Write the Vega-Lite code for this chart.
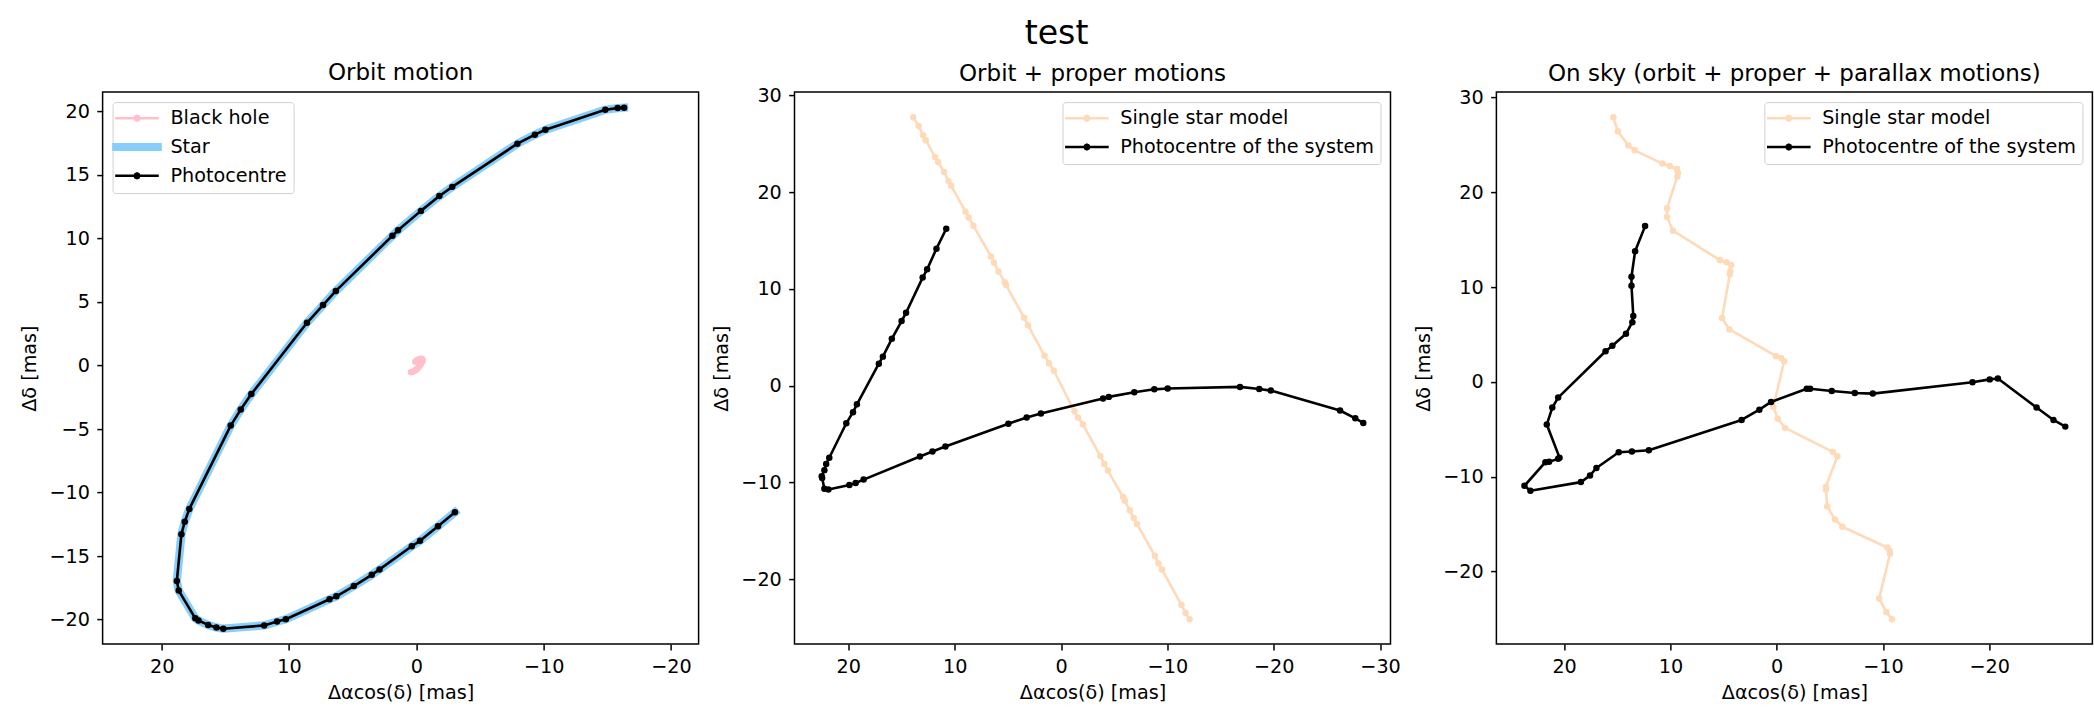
{
  "$schema": "https://vega.github.io/schema/vega-lite/v6.json",
  "background": "white",
  "padding": {"left": 19.6, "top": 17.1, "right": 0, "bottom": 0},
  "title": {"text": "test", "fontSize": 33.2, "font": "DejaVu Sans", "fontWeight": "normal", "color": "black", "anchor": "middle", "baseline": "top", "offset": 10},
  "spacing": 11.9,
  "resolve": {"scale": {"color": "independent"}},
  "config": {
    "font": "DejaVu Sans",
    "view": {"stroke": "black", "strokeWidth": 1.5},
    "axis": {"grid": false, "domain": false, "tickColor": "black", "tickWidth": 1.5, "tickSize": 5.8, "labelFontSize": 19.2, "labelColor": "black", "labelFont": "DejaVu Sans", "labelPadding": 7.4, "titleFontSize": 19.2, "titleFontWeight": "normal", "titleColor": "black", "titleFont": "DejaVu Sans", "labelOverlap": false},
    "axisX": {"titlePadding": 7},
    "axisY": {"titlePadding": 9.2},
    "legend": {"labelFontSize": 19.2, "labelColor": "black", "labelFont": "DejaVu Sans", "labelLimit": 500, "padding": 6.5, "rowPadding": 8.8, "fillColor": "white", "strokeColor": "#d0d0d0", "cornerRadius": 3, "symbolSize": 1, "symbolStrokeWidth": 2.6, "symbolOffset": 8.3, "labelOffset": 23.8, "offset": 10}
  },
  "datasets": {
    "p1": [
      {"s":"Black hole","i":0,"x":0.42,"y":-0.53},{"s":"Black hole","i":1,"x":0.26,"y":-0.48},{"s":"Black hole","i":2,"x":0.07,"y":-0.37},{"s":"Black hole","i":3,"x":-0.04,"y":-0.28},{"s":"Black hole","i":4,"x":-0.19,"y":-0.12},{"s":"Black hole","i":5,"x":-0.34,"y":0.06},{"s":"Black hole","i":6,"x":-0.46,"y":0.29},{"s":"Black hole","i":7,"x":-0.49,"y":0.44},{"s":"Black hole","i":8,"x":-0.45,"y":0.52},{"s":"Black hole","i":9,"x":-0.39,"y":0.54},{"s":"Black hole","i":10,"x":-0.28,"y":0.52},{"s":"Black hole","i":11,"x":-0.13,"y":0.45},{"s":"Black hole","i":12,"x":-0.01,"y":0.37},{"s":"Black hole","i":13,"x":0.08,"y":0.30},
      {"s":"Star","i":0,"x":-16.32,"y":20.29},{"s":"Star","i":1,"x":-15.81,"y":20.26},{"s":"Star","i":2,"x":-14.84,"y":20.13},{"s":"Star","i":3,"x":-10.14,"y":18.56},{"s":"Star","i":4,"x":-9.31,"y":18.17},{"s":"Star","i":5,"x":-7.94,"y":17.46},{"s":"Star","i":6,"x":-2.82,"y":14.06},{"s":"Star","i":7,"x":-1.81,"y":13.34},{"s":"Star","i":8,"x":-0.36,"y":12.17},{"s":"Star","i":9,"x":1.44,"y":10.64},{"s":"Star","i":10,"x":1.88,"y":10.21},{"s":"Star","i":11,"x":6.32,"y":5.87},{"s":"Star","i":12,"x":7.33,"y":4.76},{"s":"Star","i":13,"x":8.59,"y":3.36},{"s":"Star","i":14,"x":12.96,"y":-2.25},{"s":"Star","i":15,"x":13.79,"y":-3.46},{"s":"Star","i":16,"x":14.58,"y":-4.73},{"s":"Star","i":17,"x":17.83,"y":-11.29},{"s":"Star","i":18,"x":18.19,"y":-12.30},{"s":"Star","i":19,"x":18.45,"y":-13.28},{"s":"Star","i":20,"x":18.81,"y":-16.97},{"s":"Star","i":21,"x":18.66,"y":-17.72},{"s":"Star","i":22,"x":17.36,"y":-19.90},{"s":"Star","i":23,"x":17.11,"y":-20.07},{"s":"Star","i":24,"x":16.35,"y":-20.42},{"s":"Star","i":25,"x":15.70,"y":-20.62},{"s":"Star","i":26,"x":15.16,"y":-20.72},{"s":"Star","i":27,"x":11.95,"y":-20.46},{"s":"Star","i":28,"x":10.94,"y":-20.16},{"s":"Star","i":29,"x":10.25,"y":-19.97},{"s":"Star","i":30,"x":6.82,"y":-18.40},{"s":"Star","i":31,"x":6.28,"y":-18.17},{"s":"Star","i":32,"x":4.91,"y":-17.36},{"s":"Star","i":33,"x":3.50,"y":-16.48},{"s":"Star","i":34,"x":2.89,"y":-16.05},{"s":"Star","i":35,"x":0.36,"y":-14.23},{"s":"Star","i":36,"x":-0.29,"y":-13.80},{"s":"Star","i":37,"x":-1.70,"y":-12.66},{"s":"Star","i":38,"x":-3.03,"y":-11.55},
      {"s":"Photocentre","i":0,"x":-16.32,"y":20.29},{"s":"Photocentre","i":1,"x":-15.81,"y":20.26},{"s":"Photocentre","i":2,"x":-14.84,"y":20.13},{"s":"Photocentre","i":3,"x":-10.14,"y":18.56},{"s":"Photocentre","i":4,"x":-9.31,"y":18.17},{"s":"Photocentre","i":5,"x":-7.94,"y":17.46},{"s":"Photocentre","i":6,"x":-2.82,"y":14.06},{"s":"Photocentre","i":7,"x":-1.81,"y":13.34},{"s":"Photocentre","i":8,"x":-0.36,"y":12.17},{"s":"Photocentre","i":9,"x":1.44,"y":10.64},{"s":"Photocentre","i":10,"x":1.88,"y":10.21},{"s":"Photocentre","i":11,"x":6.32,"y":5.87},{"s":"Photocentre","i":12,"x":7.33,"y":4.76},{"s":"Photocentre","i":13,"x":8.59,"y":3.36},{"s":"Photocentre","i":14,"x":12.96,"y":-2.25},{"s":"Photocentre","i":15,"x":13.79,"y":-3.46},{"s":"Photocentre","i":16,"x":14.58,"y":-4.73},{"s":"Photocentre","i":17,"x":17.83,"y":-11.29},{"s":"Photocentre","i":18,"x":18.19,"y":-12.30},{"s":"Photocentre","i":19,"x":18.45,"y":-13.28},{"s":"Photocentre","i":20,"x":18.81,"y":-16.97},{"s":"Photocentre","i":21,"x":18.66,"y":-17.72},{"s":"Photocentre","i":22,"x":17.36,"y":-19.90},{"s":"Photocentre","i":23,"x":17.11,"y":-20.07},{"s":"Photocentre","i":24,"x":16.35,"y":-20.42},{"s":"Photocentre","i":25,"x":15.70,"y":-20.62},{"s":"Photocentre","i":26,"x":15.16,"y":-20.72},{"s":"Photocentre","i":27,"x":11.95,"y":-20.46},{"s":"Photocentre","i":28,"x":10.94,"y":-20.16},{"s":"Photocentre","i":29,"x":10.25,"y":-19.97},{"s":"Photocentre","i":30,"x":6.82,"y":-18.40},{"s":"Photocentre","i":31,"x":6.28,"y":-18.17},{"s":"Photocentre","i":32,"x":4.91,"y":-17.36},{"s":"Photocentre","i":33,"x":3.50,"y":-16.48},{"s":"Photocentre","i":34,"x":2.89,"y":-16.05},{"s":"Photocentre","i":35,"x":0.36,"y":-14.23},{"s":"Photocentre","i":36,"x":-0.29,"y":-13.80},{"s":"Photocentre","i":37,"x":-1.70,"y":-12.66},{"s":"Photocentre","i":38,"x":-3.03,"y":-11.55}
    ],
    "p2": [
      {"s":"Single star model","i":0,"x":13.90,"y":27.73},{"s":"Single star model","i":1,"x":13.39,"y":26.83},{"s":"Single star model","i":2,"x":12.97,"y":25.89},{"s":"Single star model","i":3,"x":12.72,"y":25.37},{"s":"Single star model","i":4,"x":11.84,"y":23.62},{"s":"Single star model","i":5,"x":11.55,"y":23.11},{"s":"Single star model","i":6,"x":11.00,"y":22.08},{"s":"Single star model","i":7,"x":10.58,"y":21.14},{"s":"Single star model","i":8,"x":10.33,"y":20.67},{"s":"Single star model","i":9,"x":8.98,"y":17.97},{"s":"Single star model","i":10,"x":8.69,"y":17.37},{"s":"Single star model","i":11,"x":8.23,"y":16.52},{"s":"Single star model","i":12,"x":6.59,"y":13.35},{"s":"Single star model","i":13,"x":6.30,"y":12.71},{"s":"Single star model","i":14,"x":5.88,"y":11.81},{"s":"Single star model","i":15,"x":5.29,"y":10.70},{"s":"Single star model","i":16,"x":5.16,"y":10.40},{"s":"Single star model","i":17,"x":3.48,"y":7.02},{"s":"Single star model","i":18,"x":3.11,"y":6.25},{"s":"Single star model","i":19,"x":1.55,"y":3.08},{"s":"Single star model","i":20,"x":1.13,"y":2.31},{"s":"Single star model","i":21,"x":0.67,"y":1.54},{"s":"Single star model","i":22,"x":-1.26,"y":-2.65},{"s":"Single star model","i":23,"x":-1.60,"y":-3.29},{"s":"Single star model","i":24,"x":-2.06,"y":-4.02},{"s":"Single star model","i":25,"x":-3.69,"y":-7.27},{"s":"Single star model","i":26,"x":-4.07,"y":-8.09},{"s":"Single star model","i":27,"x":-4.41,"y":-8.77},{"s":"Single star model","i":28,"x":-5.84,"y":-11.51},{"s":"Single star model","i":29,"x":-6.00,"y":-11.90},{"s":"Single star model","i":30,"x":-6.47,"y":-12.88},{"s":"Single star model","i":31,"x":-6.84,"y":-13.69},{"s":"Single star model","i":32,"x":-7.14,"y":-14.29},{"s":"Single star model","i":33,"x":-8.82,"y":-17.59},{"s":"Single star model","i":34,"x":-9.15,"y":-18.36},{"s":"Single star model","i":35,"x":-9.49,"y":-19.00},{"s":"Single star model","i":36,"x":-11.33,"y":-22.68},{"s":"Single star model","i":37,"x":-11.71,"y":-23.49},{"s":"Single star model","i":38,"x":-12.09,"y":-24.13},
      {"s":"Photocentre of the system","i":0,"x":10.79,"y":16.22},{"s":"Photocentre of the system","i":1,"x":11.71,"y":14.16},{"s":"Photocentre of the system","i":2,"x":12.59,"y":12.02},{"s":"Photocentre of the system","i":3,"x":13.01,"y":11.17},{"s":"Photocentre of the system","i":4,"x":14.57,"y":7.53},{"s":"Photocentre of the system","i":5,"x":14.99,"y":6.68},{"s":"Photocentre of the system","i":6,"x":15.91,"y":4.84},{"s":"Photocentre of the system","i":7,"x":16.75,"y":3.00},{"s":"Photocentre of the system","i":8,"x":17.13,"y":2.27},{"s":"Photocentre of the system","i":9,"x":19.19,"y":-1.93},{"s":"Photocentre of the system","i":10,"x":19.56,"y":-2.74},{"s":"Photocentre of the system","i":11,"x":20.19,"y":-3.89},{"s":"Photocentre of the system","i":12,"x":21.79,"y":-7.45},{"s":"Photocentre of the system","i":13,"x":22.08,"y":-8.09},{"s":"Photocentre of the system","i":14,"x":22.25,"y":-8.73},{"s":"Photocentre of the system","i":15,"x":22.50,"y":-9.37},{"s":"Photocentre of the system","i":16,"x":22.46,"y":-9.54},{"s":"Photocentre of the system","i":17,"x":22.25,"y":-10.65},{"s":"Photocentre of the system","i":18,"x":21.87,"y":-10.74},{"s":"Photocentre of the system","i":19,"x":19.90,"y":-10.27},{"s":"Photocentre of the system","i":20,"x":19.31,"y":-10.06},{"s":"Photocentre of the system","i":21,"x":18.56,"y":-9.71},{"s":"Photocentre of the system","i":22,"x":13.27,"y":-7.32},{"s":"Photocentre of the system","i":23,"x":12.09,"y":-6.80},{"s":"Photocentre of the system","i":24,"x":10.87,"y":-6.29},{"s":"Photocentre of the system","i":25,"x":4.95,"y":-3.94},{"s":"Photocentre of the system","i":26,"x":3.23,"y":-3.29},{"s":"Photocentre of the system","i":27,"x":1.89,"y":-2.87},{"s":"Photocentre of the system","i":28,"x":-3.95,"y":-1.33},{"s":"Photocentre of the system","i":29,"x":-4.49,"y":-1.16},{"s":"Photocentre of the system","i":30,"x":-6.89,"y":-0.68},{"s":"Photocentre of the system","i":31,"x":-8.77,"y":-0.38},{"s":"Photocentre of the system","i":32,"x":-10.03,"y":-0.30},{"s":"Photocentre of the system","i":33,"x":-16.83,"y":-0.13},{"s":"Photocentre of the system","i":34,"x":-18.64,"y":-0.34},{"s":"Photocentre of the system","i":35,"x":-19.73,"y":-0.51},{"s":"Photocentre of the system","i":36,"x":-26.24,"y":-2.57},{"s":"Photocentre of the system","i":37,"x":-27.67,"y":-3.38},{"s":"Photocentre of the system","i":38,"x":-28.42,"y":-3.85}
    ],
    "p3": [
      {"s":"Single star model","i":0,"x":15.37,"y":27.90},{"s":"Single star model","i":1,"x":14.95,"y":26.42},{"s":"Single star model","i":2,"x":13.96,"y":24.93},{"s":"Single star model","i":3,"x":13.36,"y":24.41},{"s":"Single star model","i":4,"x":10.75,"y":23.01},{"s":"Single star model","i":5,"x":10.06,"y":22.75},{"s":"Single star model","i":6,"x":9.38,"y":22.45},{"s":"Single star model","i":7,"x":9.29,"y":22.01},{"s":"Single star model","i":8,"x":9.34,"y":21.66},{"s":"Single star model","i":9,"x":10.32,"y":18.30},{"s":"Single star model","i":10,"x":10.32,"y":17.38},{"s":"Single star model","i":11,"x":9.76,"y":15.94},{"s":"Single star model","i":12,"x":5.35,"y":12.84},{"s":"Single star model","i":13,"x":4.71,"y":12.62},{"s":"Single star model","i":14,"x":4.28,"y":12.31},{"s":"Single star model","i":15,"x":4.37,"y":11.66},{"s":"Single star model","i":16,"x":4.41,"y":11.35},{"s":"Single star model","i":17,"x":5.14,"y":6.72},{"s":"Single star model","i":18,"x":4.45,"y":5.52},{"s":"Single star model","i":19,"x":0.06,"y":2.70},{"s":"Single star model","i":20,"x":-0.41,"y":2.52},{"s":"Single star model","i":21,"x":-0.70,"y":2.17},{"s":"Single star model","i":22,"x":0.31,"y":-2.64},{"s":"Single star model","i":23,"x":-0.10,"y":-3.88},{"s":"Single star model","i":24,"x":-0.79,"y":-4.86},{"s":"Single star model","i":25,"x":-5.28,"y":-7.39},{"s":"Single star model","i":26,"x":-5.71,"y":-7.84},{"s":"Single star model","i":27,"x":-4.63,"y":-11.05},{"s":"Single star model","i":28,"x":-4.63,"y":-11.35},{"s":"Single star model","i":29,"x":-4.75,"y":-13.14},{"s":"Single star model","i":30,"x":-5.48,"y":-14.50},{"s":"Single star model","i":31,"x":-6.17,"y":-15.28},{"s":"Single star model","i":32,"x":-10.41,"y":-17.47},{"s":"Single star model","i":33,"x":-10.62,"y":-17.82},{"s":"Single star model","i":34,"x":-10.66,"y":-18.12},{"s":"Single star model","i":35,"x":-9.64,"y":-22.84},{"s":"Single star model","i":36,"x":-10.32,"y":-24.28},{"s":"Single star model","i":37,"x":-10.84,"y":-25.02},
      {"s":"Photocentre of the system","i":0,"x":12.38,"y":16.42},{"s":"Photocentre of the system","i":1,"x":13.32,"y":13.76},{"s":"Photocentre of the system","i":2,"x":13.66,"y":11.09},{"s":"Photocentre of the system","i":3,"x":13.66,"y":10.13},{"s":"Photocentre of the system","i":4,"x":13.49,"y":6.94},{"s":"Photocentre of the system","i":5,"x":13.58,"y":6.29},{"s":"Photocentre of the system","i":6,"x":14.18,"y":5.07},{"s":"Photocentre of the system","i":7,"x":15.46,"y":3.80},{"s":"Photocentre of the system","i":8,"x":16.10,"y":3.23},{"s":"Photocentre of the system","i":9,"x":20.56,"y":-1.66},{"s":"Photocentre of the system","i":10,"x":21.11,"y":-2.71},{"s":"Photocentre of the system","i":11,"x":21.63,"y":-4.50},{"s":"Photocentre of the system","i":12,"x":20.43,"y":-7.99},{"s":"Photocentre of the system","i":13,"x":20.56,"y":-8.12},{"s":"Photocentre of the system","i":14,"x":21.41,"y":-8.43},{"s":"Photocentre of the system","i":15,"x":21.76,"y":-8.47},{"s":"Photocentre of the system","i":16,"x":23.73,"y":-10.96},{"s":"Photocentre of the system","i":17,"x":23.17,"y":-11.48},{"s":"Photocentre of the system","i":18,"x":18.42,"y":-10.57},{"s":"Photocentre of the system","i":19,"x":17.56,"y":-9.87},{"s":"Photocentre of the system","i":20,"x":16.96,"y":-9.08},{"s":"Photocentre of the system","i":21,"x":14.86,"y":-7.42},{"s":"Photocentre of the system","i":22,"x":13.62,"y":-7.34},{"s":"Photocentre of the system","i":23,"x":12.03,"y":-7.21},{"s":"Photocentre of the system","i":24,"x":3.30,"y":-4.02},{"s":"Photocentre of the system","i":25,"x":1.63,"y":-2.93},{"s":"Photocentre of the system","i":26,"x":0.53,"y":-2.12},{"s":"Photocentre of the system","i":27,"x":-2.83,"y":-0.72},{"s":"Photocentre of the system","i":28,"x":-3.14,"y":-0.72},{"s":"Photocentre of the system","i":29,"x":-5.18,"y":-0.96},{"s":"Photocentre of the system","i":30,"x":-7.35,"y":-1.17},{"s":"Photocentre of the system","i":31,"x":-9.04,"y":-1.24},{"s":"Photocentre of the system","i":32,"x":-18.42,"y":-0.04},{"s":"Photocentre of the system","i":33,"x":-20.04,"y":0.26},{"s":"Photocentre of the system","i":34,"x":-20.81,"y":0.35},{"s":"Photocentre of the system","i":35,"x":-24.45,"y":-2.71},{"s":"Photocentre of the system","i":36,"x":-26.04,"y":-4.02},{"s":"Photocentre of the system","i":37,"x":-27.15,"y":-4.72}
    ]
  },
  "hconcat": [
    {
      "width": 596, "height": 552,
      "title": {"text": "Orbit motion", "frame": "group", "anchor": "middle", "fontSize": 23, "fontWeight": "normal", "color": "black", "baseline": "top", "offset": 6.7},
      "data": {"name": "p1"},
      "encoding": {
        "x": {"field": "x", "type": "quantitative", "scale": {"domain": [-22.17, 24.64], "reverse": true, "nice": false, "zero": false}, "axis": {"values": [20, 10, 0, -10, -20], "title": "Δαcos(δ) [mas]"}},
        "y": {"field": "y", "type": "quantitative", "scale": {"domain": [-21.93, 21.52], "nice": false, "zero": false}, "axis": {"values": [-20, -15, -10, -5, 0, 5, 10, 15, 20], "title": "Δδ [mas]"}},
        "order": {"field": "i", "type": "quantitative"},
        "color": {"field": "s", "type": "nominal", "scale": {"domain": ["Black hole", "Star", "Photocentre"], "range": ["#FFC0CB", "#87CEFA", "#000000"]},
          "legend": {"title": null, "orient": "top-left", "offset": 10,
            "encode": {"symbols": {"update": {
              "shape": {"signal": "datum.value === 'Star' ? 'M-47,-5.6L47,-5.6L47,5.6L-47,5.6Z' : 'M-41,0L41,0M4.6,0L3.25,3.25L0,4.6L-3.25,3.25L-4.6,0L-3.25,-3.25L0,-4.6L3.25,-3.25Z'"},
              "size": {"value": 1},
              "strokeWidth": {"value": 2.6},
              "stroke": {"signal": "datum.value === 'Star' ? '#87CEFA' : (datum.value === 'Black hole' ? '#FFC0CB' : '#000000')"},
              "fill": {"signal": "datum.value === 'Star' ? '#87CEFA' : (datum.value === 'Black hole' ? '#FFC0CB' : '#000000')"},
              "strokeCap": {"value": "square"},
              "opacity": {"value": 1}
            }}}}}
      },
      "layer": [
        {"transform": [{"filter": "datum.s === 'Black hole'"}], "mark": {"type": "line", "strokeWidth": 2.6, "strokeJoin": "round", "point": {"filled": true, "size": 42, "opacity": 1}}},
        {"transform": [{"filter": "datum.s === 'Star'"}], "mark": {"type": "line", "strokeWidth": 8.3, "strokeJoin": "round", "strokeCap": "square"}},
        {"transform": [{"filter": "datum.s === 'Photocentre'"}], "mark": {"type": "line", "strokeWidth": 2.6, "strokeJoin": "round", "point": {"filled": true, "size": 42, "opacity": 1}}}
      ]
    },
    {
      "width": 596, "height": 552,
      "title": {"text": "Orbit + proper motions", "frame": "group", "anchor": "middle", "fontSize": 23, "fontWeight": "normal", "color": "black", "baseline": "top", "offset": 0.5},
      "data": {"name": "p2"},
      "encoding": {
        "x": {"field": "x", "type": "quantitative", "scale": {"domain": [-30.98, 25.06], "reverse": true, "nice": false, "zero": false}, "axis": {"values": [20, 10, 0, -10, -20, -30], "title": "Δαcos(δ) [mas]"}},
        "y": {"field": "y", "type": "quantitative", "scale": {"domain": [-26.71, 30.34], "nice": false, "zero": false}, "axis": {"values": [-20, -10, 0, 10, 20, 30], "title": "Δδ [mas]"}},
        "order": {"field": "i", "type": "quantitative"},
        "color": {"field": "s", "type": "nominal", "scale": {"domain": ["Single star model", "Photocentre of the system"], "range": ["#FFDAB9", "#000000"]},
          "legend": {"title": null, "orient": "top-right", "offset": 10,
            "encode": {"symbols": {"update": {
              "shape": {"value": "M-41,0L41,0M4.6,0L3.25,3.25L0,4.6L-3.25,3.25L-4.6,0L-3.25,-3.25L0,-4.6L3.25,-3.25Z"},
              "size": {"value": 1},
              "strokeWidth": {"value": 2.6},
              "stroke": {"signal": "datum.value === 'Single star model' ? '#FFDAB9' : '#000000'"},
              "fill": {"signal": "datum.value === 'Single star model' ? '#FFDAB9' : '#000000'"},
              "strokeCap": {"value": "square"},
              "opacity": {"value": 1}
            }}}}}
      },
      "layer": [
        {"transform": [{"filter": "datum.s === 'Single star model'"}], "mark": {"type": "line", "strokeWidth": 2.6, "strokeJoin": "round", "point": {"filled": true, "size": 42, "opacity": 1}}},
        {"transform": [{"filter": "datum.s === 'Photocentre of the system'"}], "mark": {"type": "line", "strokeWidth": 2.6, "strokeJoin": "round", "point": {"filled": true, "size": 42, "opacity": 1}}}
      ]
    },
    {
      "width": 596, "height": 552,
      "title": {"text": "On sky (orbit + proper + parallax motions)", "frame": "group", "anchor": "middle", "fontSize": 23, "fontWeight": "normal", "color": "black", "baseline": "top", "offset": 2.4},
      "data": {"name": "p3"},
      "encoding": {
        "x": {"field": "x", "type": "quantitative", "scale": {"domain": [-29.70, 26.37], "reverse": true, "nice": false, "zero": false}, "axis": {"values": [20, 10, 0, -10, -20], "title": "Δαcos(δ) [mas]"}},
        "y": {"field": "y", "type": "quantitative", "scale": {"domain": [-27.65, 30.55], "nice": false, "zero": false}, "axis": {"values": [-20, -10, 0, 10, 20, 30], "title": "Δδ [mas]"}},
        "order": {"field": "i", "type": "quantitative"},
        "color": {"field": "s", "type": "nominal", "scale": {"domain": ["Single star model", "Photocentre of the system"], "range": ["#FFDAB9", "#000000"]},
          "legend": {"title": null, "orient": "top-right", "offset": 10,
            "encode": {"symbols": {"update": {
              "shape": {"value": "M-41,0L41,0M4.6,0L3.25,3.25L0,4.6L-3.25,3.25L-4.6,0L-3.25,-3.25L0,-4.6L3.25,-3.25Z"},
              "size": {"value": 1},
              "strokeWidth": {"value": 2.6},
              "stroke": {"signal": "datum.value === 'Single star model' ? '#FFDAB9' : '#000000'"},
              "fill": {"signal": "datum.value === 'Single star model' ? '#FFDAB9' : '#000000'"},
              "strokeCap": {"value": "square"},
              "opacity": {"value": 1}
            }}}}}
      },
      "layer": [
        {"transform": [{"filter": "datum.s === 'Single star model'"}], "mark": {"type": "line", "strokeWidth": 2.6, "strokeJoin": "round", "point": {"filled": true, "size": 42, "opacity": 1}}},
        {"transform": [{"filter": "datum.s === 'Photocentre of the system'"}], "mark": {"type": "line", "strokeWidth": 2.6, "strokeJoin": "round", "point": {"filled": true, "size": 42, "opacity": 1}}}
      ]
    }
  ]
}
